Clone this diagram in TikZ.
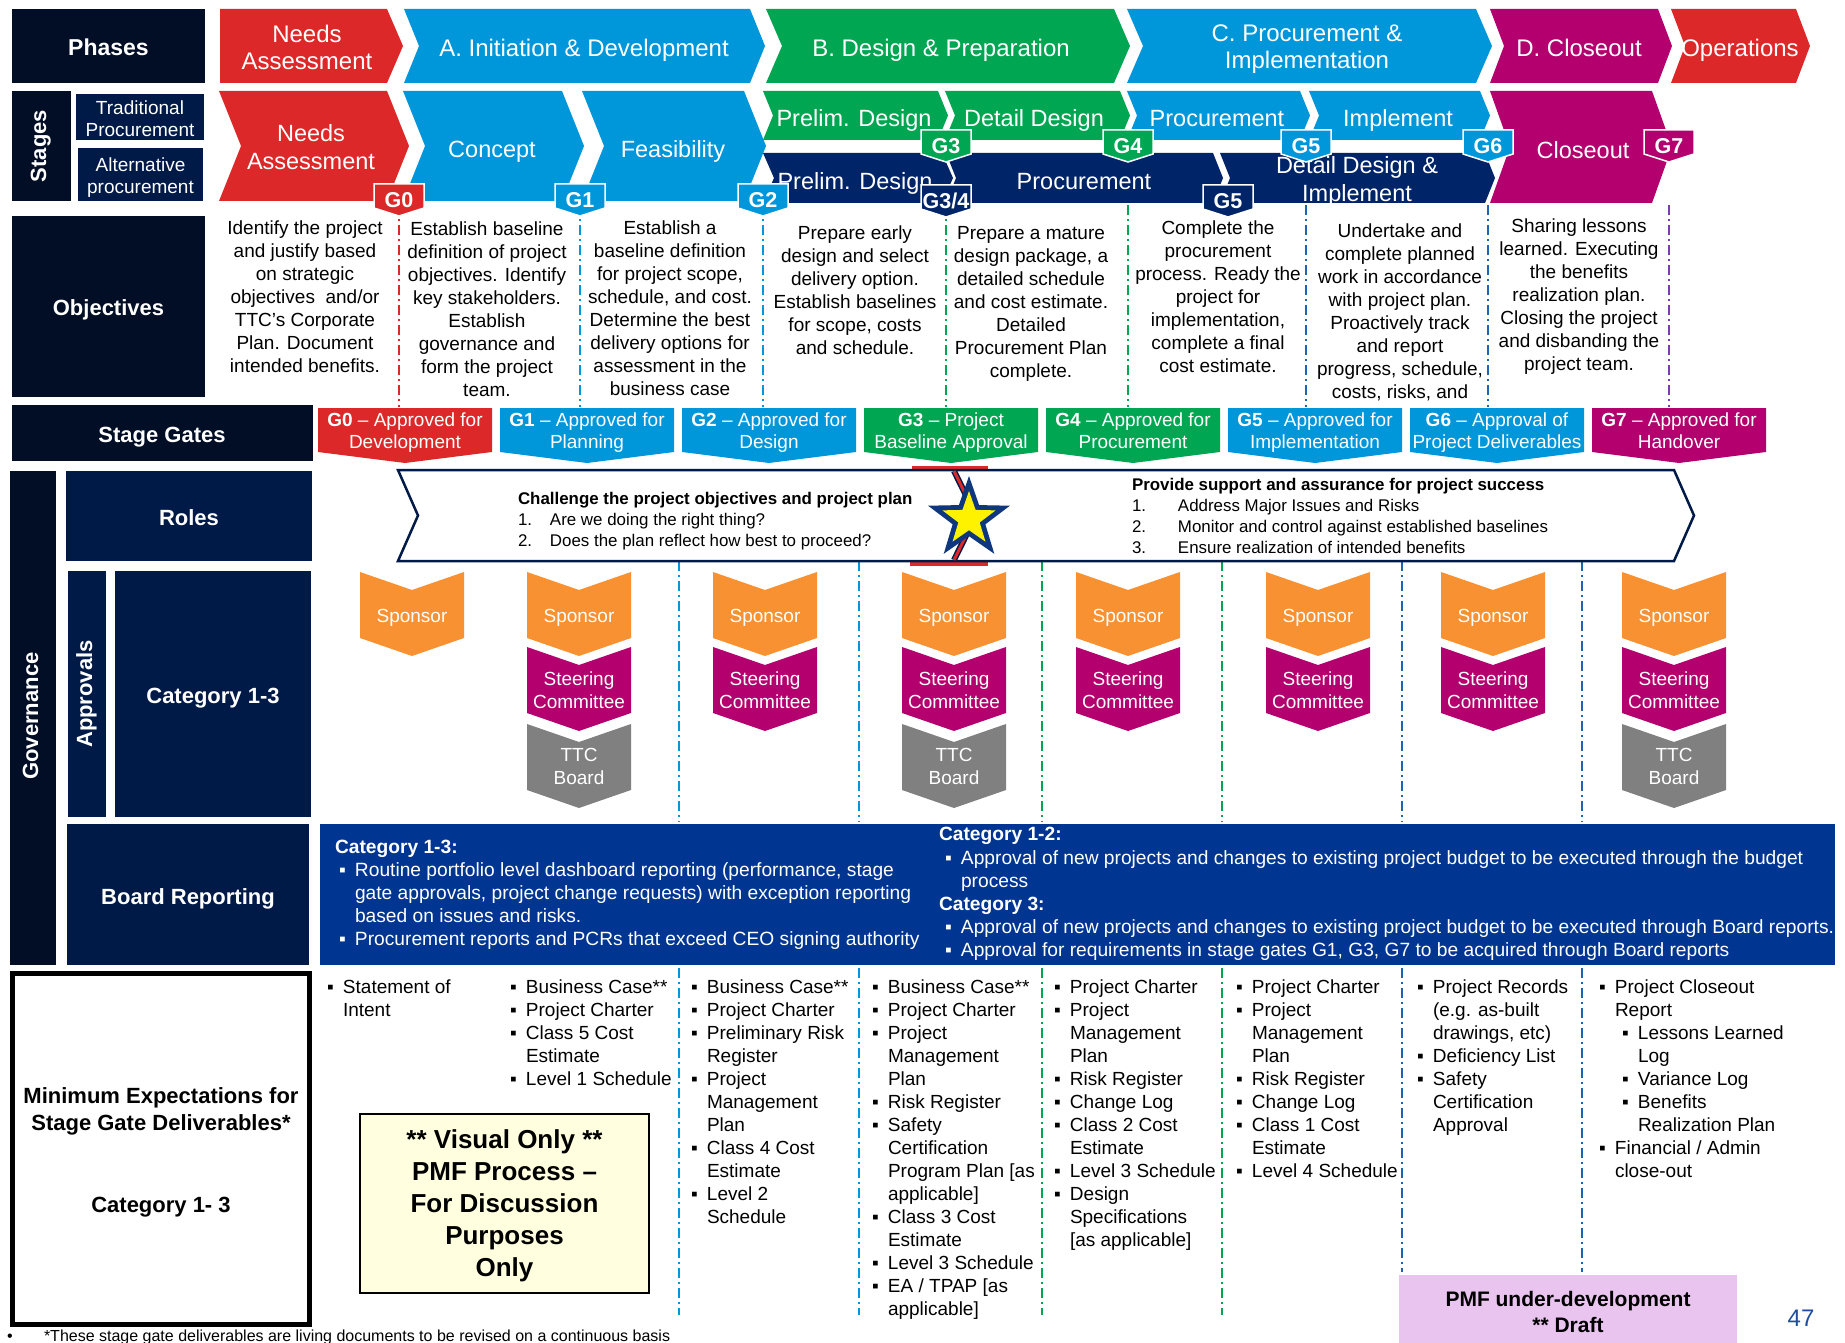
\documentclass[tikz,border=0pt]{standalone}
\usepackage{fontspec}
\setmainfont{Liberation Sans}
\usetikzlibrary{shapes.geometric}
\definecolor{dk}{RGB}{2,14,38}
\definecolor{nv}{RGB}{0,26,72}
\definecolor{nvrow}{RGB}{0,36,104}
\definecolor{rd}{RGB}{220,40,40}
\definecolor{bl}{RGB}{0,150,218}
\definecolor{gn}{RGB}{0,166,81}
\definecolor{mg}{RGB}{180,0,110}
\definecolor{og}{RGB}{247,145,50}
\definecolor{gy}{RGB}{128,128,128}
\definecolor{brp}{RGB}{0,53,145}
\definecolor{lav}{RGB}{233,196,239}
\definecolor{ylw}{RGB}{255,255,224}
\definecolor{dbl}{RGB}{30,100,180}
\definecolor{pu}{RGB}{120,60,180}
\definecolor{pg}{RGB}{31,78,160}
\definecolor{starnv}{RGB}{15,55,125}
\newcommand{\myfs}[2]{\fontsize{#1}{#2}\selectfont}
% chevron: color, xl, xr, ytop, ybot, depth, notch factor
\newcommand{\chev}[7]{\fill[#1] (#2,#4) -- (#3,#4) -- ({#3+#6},{(#4+#5)/2}) -- (#3,#5) -- (#2,#5) -- ({#2+#6*#7},{(#4+#5)/2}) -- cycle;}
% vertical chevron: color, xc, ytop
\newcommand{\vch}[3]{\fill[#1] ({#2-52},#3) -- (#2,{#3+18}) -- ({#2+52},#3) -- ({#2+52},{#3+66}) -- (#2,{#3+84}) -- ({#2-52},{#3+66}) -- cycle;}
% gate tag: color, xc, ytop, label, name
\newcommand{\gtag}[5]{\filldraw[fill=#1,draw=white,line width=1.5pt] ({#2-25},#3) -- ({#2+25},#3) -- ({#2+25},{#3+24}) -- (#2,{#3+32}) -- ({#2-25},{#3+24}) -- cycle;
  \node[tagt] (#5) at (#2,{#3+14}) {#4};}
% gate banner: color, xl, name, gate, text
\newcommand{\gban}[5]{\fill[#1] (#2,408) -- ({#2+174},408) -- ({#2+174},452) -- ({#2+87},463) -- (#2,452) -- cycle;
  \node[bant] (#3) at ({#2+87},430) {\textbf{#4} – #5};}
\newcommand{\bi}[1]{\makebox[16pt][l]{▪}#1}
\newcommand{\ci}[1]{\hspace*{16pt}#1}
\begin{document}
\begin{tikzpicture}[x=1pt,y=-1pt,
  every node/.style={inner sep=0pt,outer sep=0pt},
  txz/.style={align=center,execute at begin node={\strut},execute at end node={\strut}},
  txt/.style={txz,yshift=-4pt},
  txl/.style={align=left,anchor=north west,yshift=-4pt,execute at begin node={\strut},execute at end node={\strut}},
  wb/.style={txt,text=white,font=\bfseries\myfs{22}{26}},
  wbr/.style={txz,text=white,font=\bfseries\myfs{22}{26}},
  hdr/.style={txz,yshift=-4.5pt,text=white,font=\myfs{24}{27}},
  stg/.style={txz,yshift=-4.5pt,text=white,font=\myfs{23.5}{28}},
  tagt/.style={txt,text=white,font=\bfseries\myfs{21.5}{26}},
  bant/.style={txt,text=white,font=\myfs{19}{22}},
  ob/.style={txt,anchor=north,font=\myfs{19}{23}},
  apt/.style={txt,text=white,font=\myfs{19}{23}},
  dl/.style={txl,font=\myfs{19}{23}},
  sepl/.style={line width=1.6pt,dash pattern=on 10pt off 4pt on 2pt off 4pt},
]
\useasboundingbox (0,0) rectangle (1845,1343);
\fill[white] (0,0) rectangle (1845,1343);

% ---------------- left header boxes
\fill[dk] (12,9) rectangle (205,83);
\node[wb,font=\bfseries\myfs{23}{27}] (phases) at (108.5,46) {Phases};
\fill[dk] (12,91) rectangle (71,201);
\node[wbr,rotate=90] (stages) at (41,146) {Stages};
\fill[nv] (76,94) rectangle (204,140);
\node[txt,text=white,font=\myfs{19}{22}] (trad) at (140,118) {Traditional\\Procurement};
\fill[nv] (78,148) rectangle (203,201);
\node[txt,text=white,font=\myfs{19}{22}] (alt) at (140.5,175) {Alternative\\procurement};
\fill[dk] (12,216) rectangle (205,397);
\node[wb] (objectives) at (108.5,306) {Objectives};
\fill[dk] (12,405) rectangle (313,461);
\node[wb] (stagegates) at (162,433) {Stage Gates};
\fill[dk] (10,471) rectangle (56,965);
\node[wbr,rotate=90] (gov) at (33,716) {Governance};
\fill[nv] (66,471) rectangle (312,561);
\node[wb] (roles) at (189,516) {Roles};
\fill[nv] (68,571) rectangle (106,817);
\node[wbr,rotate=90] (approvals) at (87,694) {Approvals};
\fill[nv] (115,571) rectangle (311,817);
\node[wb] (cat13) at (213,694) {Category 1-3};
\fill[nv] (67,824) rectangle (309,965);
\node[wb] (boardrep) at (188,895) {Board Reporting};

% ---------------- phases row
\chev{rd}{220}{387}{9}{83}{16}{0}
\chev{bl}{404}{750}{9}{83}{15}{1}
\chev{gn}{766}{1114}{9}{83}{16}{1}
\chev{bl}{1127}{1476}{9}{83}{16}{1}
\chev{mg}{1490}{1658}{9}{83}{14}{1}
\chev{rd}{1671}{1796}{9}{83}{14}{1}
\node[hdr] (ph0) at (307,46.5) {Needs\\Assessment};
\node[hdr] (phA) at (584,47) {A. Initiation \& Development};
\node[hdr] (phB) at (941,47) {B. Design \& Preparation};
\node[hdr] (phC) at (1307,46.5) {C. Procurement \&\\Implementation};
\node[hdr] (phD) at (1579,47) {D. Closeout};
\node[hdr] (phO) at (1740,47) {Operations};

% ---------------- stages row
\chev{rd}{219}{387}{91}{201}{22}{1}
\chev{bl}{403}{562}{91}{201}{22}{1}
\chev{bl}{582}{744}{91}{201}{22}{1}
% upper (traditional)
\chev{gn}{763}{938}{91}{140}{10}{1}
\chev{gn}{945}{1120}{91}{140}{10}{1}
\chev{bl}{1127}{1300}{91}{140}{10}{1}
\chev{bl}{1309}{1480}{91}{140}{10}{1}
% lower (alternative)
\chev{nvrow}{763}{942}{153}{203}{11}{1}
\chev{nvrow}{946}{1213}{153}{203}{10}{1}
\chev{nvrow}{1220}{1485}{153}{203}{10}{1}
% closeout
\chev{mg}{1490}{1652}{91}{203}{20}{1}
\node[stg] (sNA) at (311,147) {Needs\\Assessment};
\node[stg] (sCo) at (492,147) {Concept};
\node[stg] (sFe) at (673,147) {Feasibility};
\node[stg] (uPD) at (854,116) {Prelim. Design};
\node[stg] (uDD) at (1034,116) {Detail Design};
\node[stg] (uPr) at (1217,116) {Procurement};
\node[stg] (uIm) at (1398,116) {Implement};
\node[stg] (lPD) at (855,179) {Prelim. Design};
\node[stg] (lPr) at (1084,179) {Procurement};
\node[stg] (lDI) at (1357,179) {Detail Design \&\\Implement};
\node[stg] (sCl) at (1583,148) {Closeout};

% ---------------- objective separators
\draw[sepl,rd] (399,205) -- (399,407);
\draw[sepl,bl] (580,205) -- (580,407);
\draw[sepl,bl] (763,205) -- (763,407);
\draw[sepl,gn] (946,205) -- (946,407);
\draw[sepl,gn] (1128,205) -- (1128,407);
\draw[sepl,dbl] (1306,205) -- (1306,407);
\draw[sepl,dbl] (1488,205) -- (1488,407);
\draw[sepl,pu] (1669,205) -- (1669,407);

% ---------------- gate tags
\gtag{rd}{399}{184}{G0}{tg0}
\gtag{bl}{580}{184}{G1}{tg1}
\gtag{bl}{763}{184}{G2}{tg2}
\gtag{gn}{946}{130}{G3}{tg3}
\gtag{nvrow}{946}{185}{G3/4}{tg34}
\gtag{gn}{1128}{130}{G4}{tg4}
\gtag{bl}{1306}{130}{G5}{tg5}
\gtag{nvrow}{1228}{185}{G5}{tg5b}
\gtag{bl}{1488}{130}{G6}{tg6}
\gtag{mg}{1669}{130}{G7}{tg7}

% ---------------- objectives
\node[ob] (o1) at (305,216.5) {Identify the project\\and justify based\\on strategic\\objectives\ \ and/or\\TTC’s Corporate\\Plan. Document\\intended benefits.};
\node[ob] (o2) at (487,218) {Establish baseline\\definition of project\\objectives. Identify\\key stakeholders.\\Establish\\governance and\\form the project\\team.};
\node[ob] (o3) at (670,216.5) {Establish a\\baseline definition\\for project scope,\\schedule, and cost.\\Determine the best\\delivery options for\\assessment in the\\business case};
\node[ob] (o4) at (855,222) {Prepare early\\design and select\\delivery option.\\Establish baselines\\for scope, costs\\and schedule.};
\node[ob] (o5) at (1031,222) {Prepare a mature\\design package, a\\detailed schedule\\and cost estimate.\\Detailed\\Procurement Plan\\complete.};
\node[ob] (o6) at (1218,216.5) {Complete the\\procurement\\process. Ready the\\project for\\implementation,\\complete a final\\cost estimate.};
\node[ob] (o7) at (1400,219.5) {Undertake and\\complete planned\\work in accordance\\with project plan.\\Proactively track\\and report\\progress, schedule,\\costs, risks, and};
\node[ob] (o8) at (1579,215) {Sharing lessons\\learned. Executing\\the benefits\\realization plan.\\Closing the project\\and disbanding the\\project team.};

% ---------------- stage gate banners
\gban{rd}{318}{b0}{G0}{Approved for\\Development}
\gban{bl}{500}{b1}{G1}{Approved for\\Planning}
\gban{bl}{682}{b2}{G2}{Approved for\\Design}
\gban{gn}{864}{b3}{G3}{Project\\Baseline Approval}
\gban{gn}{1046}{b4}{G4}{Approved for\\Procurement}
\gban{bl}{1228}{b5}{G5}{Approved for\\Implementation}
\gban{bl}{1410}{b6}{G6}{Approval of\\Project Deliverables}
\gban{mg}{1592}{b7}{G7}{Approved for\\Handover}

% ---------------- approval separators
\foreach \xx/\cc in {679/bl,859/bl,1042/gn,1222/gn,1402/dbl,1582/dbl}{
  \draw[sepl,\cc] (\xx,561) -- (\xx,822);
}

% ---------------- roles arrow
\fill[rd] (912,466) rectangle (988,471);
\fill[rd] (910,560) rectangle (988,566);
\filldraw[fill=white,draw=nv,line width=2.5pt] (398,470) -- (1674,470) -- (1694,515.5) -- (1674,561) -- (398,561) -- (418,515.5) -- cycle;
\draw[nv,line width=6pt] (954,471) -- (976,515.5) -- (954,560);
\draw[rd,line width=3pt] (954,471) -- (976,515.5) -- (954,560);
\node[star,star points=5,star point ratio=2.5,fill=starnv,minimum size=86pt] (starO) at (969,519) {};
\node[star,star points=5,star point ratio=2.5,fill=yellow,minimum size=56pt] (starI) at (969,519) {};
\node[txl,yshift=2pt,font=\myfs{16.9}{21.2}] (rolesL) at (518,490) {\textbf{Challenge the project objectives and project plan}\\\makebox[32pt][l]{1.}Are we doing the right thing?\\\makebox[32pt][l]{2.}Does the plan reflect how best to proceed?};
\node[txl,yshift=1pt,font=\myfs{16.9}{20.8}] (rolesR) at (1132,475.5) {\textbf{Provide support and assurance for project success}\\\makebox[46pt][l]{1.}Address Major Issues and Risks\\\makebox[46pt][l]{2.}Monitor and control against established baselines\\\makebox[46pt][l]{3.}Ensure realization of intended benefits};

% ---------------- approvals chevrons
\foreach \xx/\nn in {412/1,579/2,765/3,954/4,1128/5,1318/6,1493/7,1674/8}{
  \vch{og}{\xx}{572}
  \node[apt] (sp\nn) at (\xx,614) {Sponsor};
}
\foreach \xx/\nn in {579/2,765/3,954/4,1128/5,1318/6,1493/7,1674/8}{
  \vch{mg}{\xx}{647}
  \node[apt] (sc\nn) at (\xx,690) {Steering\\Committee};
}
\foreach \xx/\nn in {579/2,954/4,1674/8}{
  \vch{gy}{\xx}{724}
  \node[apt] (tb\nn) at (\xx,766) {TTC\\Board};
}

% ---------------- board reporting
\fill[brp] (320,824) rectangle (1835,965);
\node[txl,text=white,font=\myfs{19.2}{23}] (brL) at (335,836.5) {\textbf{Category 1-3:}\\
\hspace*{4pt}\bi{Routine portfolio level dashboard reporting (performance, stage}\\
\hspace*{4pt}\ci{gate approvals, project change requests) with exception reporting}\\
\hspace*{4pt}\ci{based on issues and risks.}\\
\hspace*{4pt}\bi{Procurement reports and PCRs that exceed CEO signing authority}};
\node[txl,text=white,font=\myfs{19.2}{23.1}] (brR) at (939,823.5) {\textbf{Category 1-2:}\\
\hspace*{6pt}\bi{Approval of new projects and changes to existing project budget to be executed through the budget}\\
\hspace*{6pt}\ci{process}\\
\textbf{Category 3:}\\
\hspace*{6pt}\bi{Approval of new projects and changes to existing project budget to be executed through Board reports.}\\
\hspace*{6pt}\bi{Approval for requirements in stage gates G1, G3, G7 to be acquired through Board reports}};

% ---------------- deliverables separators
\foreach \xx/\cc/\yy in {679/bl/1315,859/bl/1315,1042/gn/1315,1222/gn/1315,1402/dbl/1272,1582/dbl/1272}{
  \draw[sepl,\cc] (\xx,968) -- (\xx,\yy);
}

% ---------------- minimum expectations
\draw[line width=5pt] (12.5,973.5) rectangle (309.5,1324.5);
\node[txt,font=\bfseries\myfs{22}{27}] (minexp) at (161,1109.5) {Minimum Expectations for\\Stage Gate Deliverables*};
\node[txt,font=\bfseries\myfs{22}{27}] (cat13b) at (161,1203) {Category 1- 3};

\filldraw[fill=ylw,draw=black,line width=2.5pt] (360,1114) rectangle (649,1293);
\node[txt,font=\bfseries\myfs{26}{32}] (visual) at (504.5,1204) {** Visual Only **\\PMF Process –\\For Discussion\\Purposes\\Only};

% ---------------- deliverables lists
\node[dl] (d1) at (327,975.5) {\bi{Statement of}\\\ci{Intent}};
\node[dl] (d2) at (510,975.5) {\bi{Business Case**}\\\bi{Project Charter}\\\bi{Class 5 Cost}\\\ci{Estimate}\\\bi{Level 1 Schedule}};
\node[dl] (d3) at (691,975.5) {\bi{Business Case**}\\\bi{Project Charter}\\\bi{Preliminary Risk}\\\ci{Register}\\\bi{Project}\\\ci{Management}\\\ci{Plan}\\\bi{Class 4 Cost}\\\ci{Estimate}\\\bi{Level 2}\\\ci{Schedule}};
\node[dl] (d4) at (872,975.5) {\bi{Business Case**}\\\bi{Project Charter}\\\bi{Project}\\\ci{Management}\\\ci{Plan}\\\bi{Risk Register}\\\bi{Safety}\\\ci{Certification}\\\ci{Program Plan [as}\\\ci{applicable]}\\\bi{Class 3 Cost}\\\ci{Estimate}\\\bi{Level 3 Schedule}\\\bi{EA / TPAP [as}\\\ci{applicable]}};
\node[dl] (d5) at (1054,975.5) {\bi{Project Charter}\\\bi{Project}\\\ci{Management}\\\ci{Plan}\\\bi{Risk Register}\\\bi{Change Log}\\\bi{Class 2 Cost}\\\ci{Estimate}\\\bi{Level 3 Schedule}\\\bi{Design}\\\ci{Specifications}\\\ci{[as applicable]}};
\node[dl] (d6) at (1236,975.5) {\bi{Project Charter}\\\bi{Project}\\\ci{Management}\\\ci{Plan}\\\bi{Risk Register}\\\bi{Change Log}\\\bi{Class 1 Cost}\\\ci{Estimate}\\\bi{Level 4 Schedule}};
\node[dl] (d7) at (1417,975.5) {\bi{Project Records}\\\ci{(e.g. as-built}\\\ci{drawings, etc)}\\\bi{Deficiency List}\\\bi{Safety}\\\ci{Certification}\\\ci{Approval}};
\node[dl] (d8) at (1599,975.5) {\bi{Project Closeout}\\\ci{Report}\\\hspace*{23pt}\bi{Lessons Learned}\\\hspace*{23pt}\ci{Log}\\\hspace*{23pt}\bi{Variance Log}\\\hspace*{23pt}\bi{Benefits}\\\hspace*{23pt}\ci{Realization Plan}\\\bi{Financial / Admin}\\\ci{close-out}};

% ---------------- PMF box, page number, footnote
\fill[lav] (1399,1275) rectangle (1737,1350);
\node[txt,font=\bfseries\myfs{21}{26}] (pmf) at (1568,1312) {PMF under-development\\** Draft};
\node[txt,text=pg,font=\myfs{24}{28}] (pgno) at (1801,1317) {47};
\node[anchor=base west,font=\myfs{16}{19}] (fnb) at (7,1341) {•};
\node[anchor=base west,font=\myfs{16}{19}] (fn) at (44,1341) {*These stage gate deliverables are living documents to be revised on a continuous basis};
\end{tikzpicture}
\end{document}
